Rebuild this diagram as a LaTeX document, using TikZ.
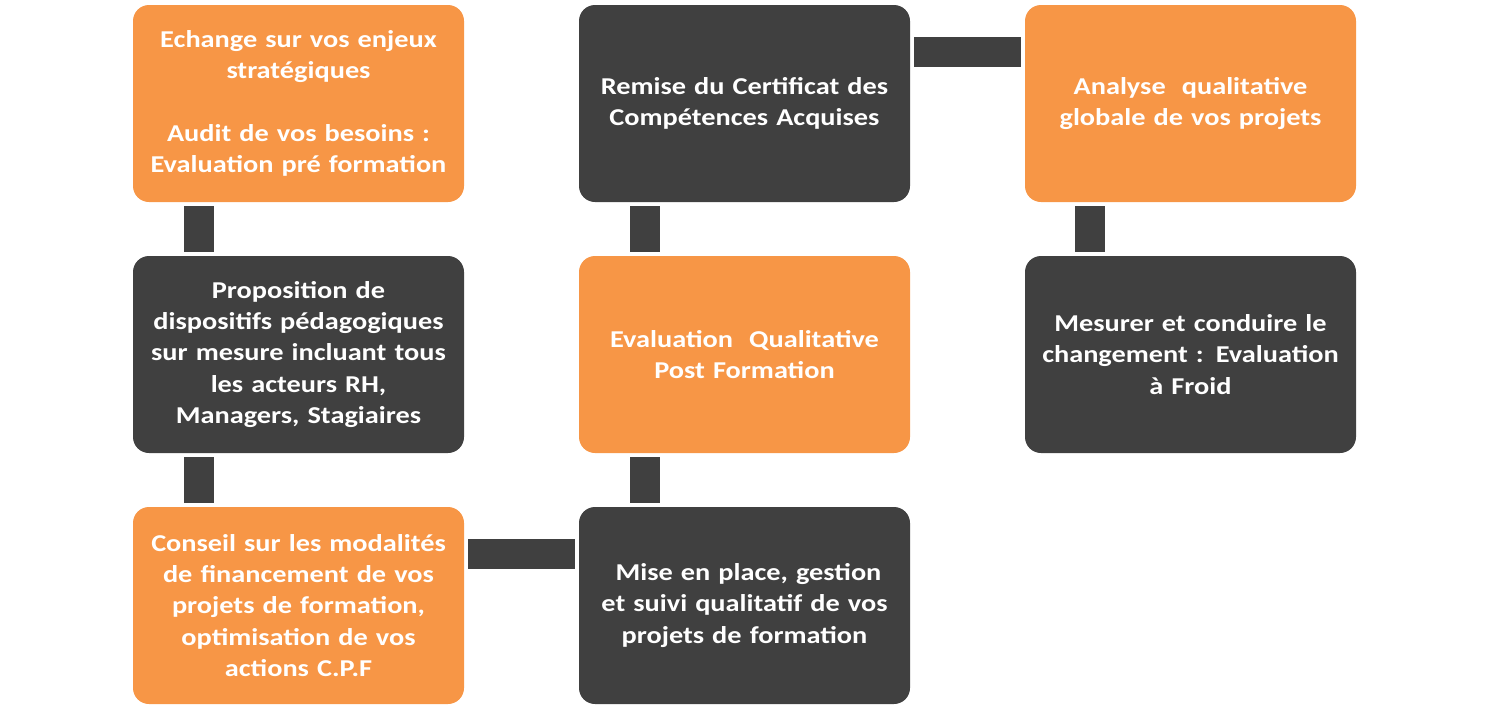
\documentclass[tikz,border=0pt]{standalone}
\usepackage{fontspec}
\setmainfont{Carlito}[FakeStretch=1.17, WordSpace=0.8]
\definecolor{orangebox}{HTML}{F79646}
\definecolor{darkbox}{HTML}{404040}
\tikzset{
  card/.style={rectangle, rounded corners=16pt, minimum width=331pt, minimum height=197pt,
    inner sep=0pt, text=white, align=center, text width=325pt,
    font=\fontsize{24.2}{31.3}\selectfont\bfseries},
  orangecard/.style={card, fill=orangebox},
  darkcard/.style={card, fill=darkbox},
  link/.style={fill=darkbox}
}
\begin{document}
\begin{tikzpicture}[x=1pt,y=-1pt]
\useasboundingbox (0,0) rectangle (1489,710);
% column 1
\node[orangecard] (a1) at (298.5,103.5) {Echange sur vos enjeux\\strat\'egiques\\[31.3pt]Audit de vos besoins :\\Evaluation pr\'e formation};
\node[darkcard] (a2) at (298.5,354.5) {Proposition de\\dispositifs p\'edagogiques\\sur mesure incluant tous\\les acteurs RH,\\Managers, Stagiaires};
\node[orangecard] (a3) at (298.5,605.5) {Conseil sur les modalit\'es\\de financement de vos\\projets de formation,\\optimisation de vos\\actions C.P.F};
% column 2
\node[darkcard] (b1) at (744.5,103.5) {Remise du Certificat des\\Comp\'etences Acquises};
\node[orangecard] (b2) at (744.5,354.5) {Evaluation\ \ Qualitative\\Post Formation};
\node[darkcard] (b3) at (744.5,605.5) {\ Mise en place, gestion\\et suivi qualitatif de vos\\projets de formation};
% column 3
\node[orangecard] (c1) at (1190.5,103.5) {Analyse\ \ qualitative\\globale de vos projets};
\node[darkcard] (c2) at (1190.5,354.5) {Mesurer et conduire le\\changement : Evaluation\\\`a Froid};
% vertical links
\fill[link] ([xshift=-114.5pt,yshift=-4pt]a1.south) rectangle ([xshift=-84.5pt,yshift=4pt]a2.north);
\fill[link] ([xshift=-114.5pt,yshift=-4pt]a2.south) rectangle ([xshift=-84.5pt,yshift=4pt]a3.north);
\fill[link] ([xshift=-115pt,yshift=-4pt]b1.south) rectangle ([xshift=-85pt,yshift=4pt]b2.north);
\fill[link] ([xshift=-115pt,yshift=-4pt]b2.south) rectangle ([xshift=-85pt,yshift=4pt]b3.north);
\fill[link] ([xshift=-115.5pt,yshift=-4pt]c1.south) rectangle ([xshift=-85.5pt,yshift=4pt]c2.north);
% horizontal links
\fill[link] ([xshift=4pt,yshift=-32pt]a3.north east) rectangle ([xshift=-4pt,yshift=-62pt]b3.north west);
\fill[link] ([xshift=4pt,yshift=-32pt]b1.north east) rectangle ([xshift=-4pt,yshift=-62pt]c1.north west);
\end{tikzpicture}
\end{document}
